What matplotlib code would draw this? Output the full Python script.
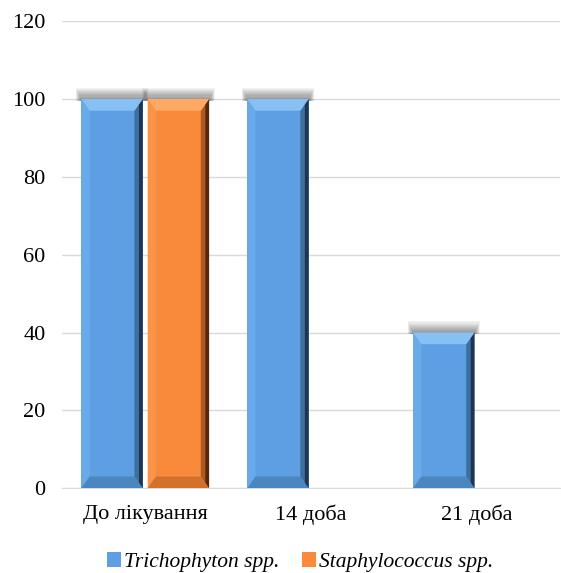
#!/usr/bin/env python3
"""Bevelled bar chart: share of positive cultures before and during treatment."""

import matplotlib

matplotlib.use("Agg")
import matplotlib.pyplot as plt
from matplotlib.patches import Polygon, Rectangle
import numpy as np

categories = ["До лікування", "14 доба", "21 доба"]
trichophyton = [100, 100, 40]
staphylococcus = [100, 0, 0]
series_names = ["Trichophyton spp.", "Staphylococcus spp."]
y_ticks = [0, 20, 40, 60, 80, 100, 120]

# main, light top, left strip, right mid, right dark, bottom bevel
PALETTE = {
    "blue": ("#5d9fe2", "#86c0f4", "#69aaea", "#3f6f9e", "#1e3450", "#4c86bf"),
    "orange": ("#f98a3c", "#ffa965", "#fc9447", "#b0591f", "#55280b", "#d3702c"),
}

SERIF = ["Liberation Serif", "DejaVu Serif"]
plt.rcParams["font.family"] = SERIF


def bevel(ax, patch, colors):
    main, light, left, rmid, rdark, low = colors
    x0, w, h = patch.get_x(), patch.get_width(), patch.get_height()
    if h <= 0:
        return
    x1 = x0 + w
    bx, by = 0.05, 3.0
    # soft blurred shadow above the bar
    for k in range(12):
        s = 0.3 + k * 0.28
        ax.add_patch(Rectangle((x0 - 0.003 * k, h - 0.5), w + 0.006 * k, s,
                               facecolor="#202020", alpha=0.05, lw=0, zorder=2))
    patch.set_facecolor(main)
    ax.add_patch(Polygon([(x0, 0), (x0 + bx, by), (x0 + bx, h - by), (x0, h)],
                         facecolor=left, lw=0, zorder=4))
    ax.add_patch(Polygon([(x1, 0), (x1 - bx, by), (x1 - bx, h - by), (x1, h)],
                         facecolor=rmid, lw=0, zorder=4))
    ax.add_patch(Polygon([(x1, 0), (x1 - bx * 0.45, by * 0.45),
                          (x1 - bx * 0.45, h - by * 0.45), (x1, h)],
                         facecolor=rdark, lw=0, zorder=4))
    ax.add_patch(Polygon([(x0, h), (x1, h), (x1 - bx, h - by), (x0 + bx, h - by)],
                         facecolor=light, lw=0, zorder=5))
    ax.add_patch(Polygon([(x0, 0), (x1, 0), (x1 - bx, by), (x0 + bx, by)],
                         facecolor=low, lw=0, zorder=5))


fig = plt.figure(figsize=(5.61, 5.73), dpi=100)
ax = fig.add_axes([0.111, 0.148, 0.887, 0.815])

x = np.arange(len(categories))
width = 0.37
offset = 0.2
bars_t = ax.bar(x - offset, trichophyton, width, color=PALETTE["blue"][0], zorder=3,
                label=series_names[0])
bars_s = ax.bar(x + offset, staphylococcus, width, color=PALETTE["orange"][0], zorder=3,
                label=series_names[1])
for p in bars_t:
    bevel(ax, p, PALETTE["blue"])
for p in bars_s:
    bevel(ax, p, PALETTE["orange"])

ax.set_xlim(-0.5, len(categories) - 0.5)
ax.set_ylim(0, 120)
ax.set_yticks(y_ticks)
ax.set_xticks(x)
ax.set_xticklabels(categories)
ax.tick_params(axis="both", length=0, labelsize=16, colors="black")
ax.tick_params(axis="y", pad=12)
ax.tick_params(axis="x", pad=12)
ax.grid(axis="y", color="#d9d9d9", linewidth=1)
ax.set_axisbelow(True)
for side in ["top", "right", "left"]:
    ax.spines[side].set_visible(False)
ax.spines["bottom"].set_color("#d9d9d9")

fig.legend(handles=[bars_t, bars_s], labels=series_names, loc="center",
           bbox_to_anchor=(0.535, 0.019), ncol=2, frameon=False, borderaxespad=0,
           prop={"family": SERIF, "style": "italic", "size": 15.5}, handlelength=0.65,
           handleheight=0.65, handletextpad=0.15, columnspacing=1.05)

fig.savefig("out.png", dpi=100)
